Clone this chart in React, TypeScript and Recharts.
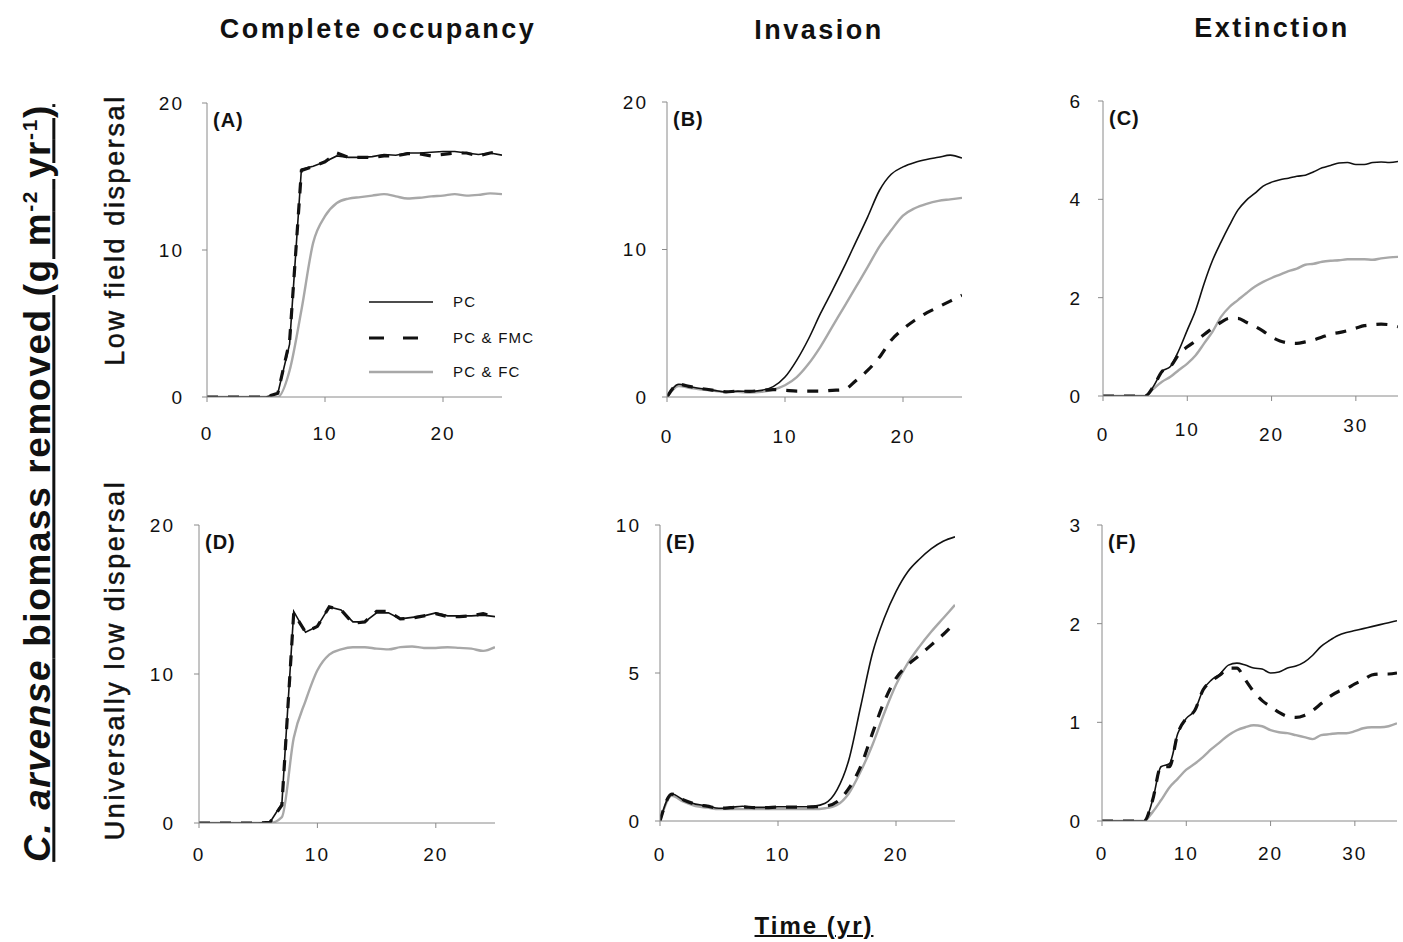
import React from 'react';
import { LineChart, Line, XAxis, YAxis } from 'recharts';

// ---------- data ----------
const years25 = [0,1,2,3,4,5,6,7,8,9,10,11,12,13,14,15,16,17,18,19,20,21,22,23,24,25];
const years35 = [0,1,2,3,4,5,6,7,8,9,10,11,12,13,14,15,16,17,18,19,20,21,22,23,24,25,26,27,28,29,30,31,32,33,34,35];

const seriesNames = ['PC', 'PC & FMC', 'PC & FC'];
const panelLetters = ['(A)', '(B)', '(C)', '(D)', '(E)', '(F)'];
const columnTitles = ['Complete occupancy', 'Invasion', 'Extinction'];
const rowTitles = ['Low field dispersal', 'Universally low dispersal'];

// (A) complete occupancy, low field dispersal
const pcA = [0,0,0,0,0,0,0.25,3.6,15.5,15.7,16.0,16.4,16.3,16.3,16.35,16.5,16.45,16.6,16.6,16.65,16.7,16.7,16.6,16.5,16.6,16.45];
const fmcA = [0,0,0,0,0,0,0.25,3.8,15.4,15.7,16.0,16.6,16.3,16.3,16.3,16.4,16.4,16.55,16.55,16.4,16.5,16.6,16.6,16.4,16.6,16.7];
const fcA = [0,0,0,0,0,0,0,1.8,5.9,10.5,12.3,13.2,13.5,13.6,13.7,13.8,13.65,13.5,13.55,13.65,13.7,13.8,13.7,13.75,13.85,13.8];

// (B) invasion, low field dispersal
const pcB = [0,0.86,0.7,0.56,0.45,0.35,0.4,0.38,0.45,0.7,1.35,2.5,3.95,5.65,7.2,8.8,10.5,12.2,14.0,15.1,15.6,15.9,16.1,16.25,16.4,16.2];
const fmcB = [0,0.86,0.7,0.56,0.45,0.35,0.4,0.38,0.45,0.5,0.45,0.4,0.4,0.4,0.45,0.5,1.1,1.8,2.7,3.85,4.6,5.2,5.7,6.1,6.5,6.9];
const fcB = [0,0.75,0.6,0.5,0.42,0.35,0.35,0.3,0.35,0.5,0.8,1.35,2.25,3.4,4.75,6.1,7.45,8.8,10.2,11.3,12.3,12.8,13.1,13.3,13.4,13.5];

// (C) extinction, low field dispersal
const pcC = [0,0,0,0,0,0,0.2,0.5,0.6,0.93,1.34,1.75,2.29,2.76,3.13,3.47,3.78,3.98,4.12,4.27,4.35,4.4,4.43,4.47,4.49,4.56,4.64,4.69,4.74,4.75,4.71,4.71,4.75,4.76,4.75,4.77];
const fmcC = [0,0,0,0,0,0,0.2,0.5,0.6,0.85,1.0,1.12,1.25,1.38,1.5,1.58,1.58,1.5,1.42,1.32,1.2,1.12,1.08,1.07,1.1,1.14,1.2,1.26,1.29,1.33,1.38,1.43,1.45,1.46,1.45,1.41];
const fcC = [0,0,0,0,0,0,0.15,0.29,0.39,0.53,0.66,0.83,1.07,1.31,1.61,1.81,1.95,2.09,2.22,2.32,2.4,2.47,2.54,2.59,2.67,2.69,2.73,2.75,2.76,2.78,2.78,2.78,2.77,2.8,2.82,2.83];

// (D) complete occupancy, universally low dispersal
const pcD = [0,0,0,0,0,0,0.05,1.3,14.2,12.8,13.2,14.5,14.3,13.5,13.5,14.1,14.1,13.7,13.8,13.9,14.1,13.9,13.9,13.9,13.95,13.85];
const fmcD = [0,0,0,0,0,0,0.05,1.2,14.1,12.8,13.2,14.5,14.3,13.4,13.5,14.2,14.2,13.7,13.75,13.9,14.05,13.85,13.85,13.9,14.05,13.85];
const fcD = [0,0,0,0,0,0,0,0.4,5.7,8.2,10.25,11.3,11.65,11.8,11.8,11.7,11.65,11.8,11.85,11.75,11.75,11.8,11.75,11.7,11.55,11.8];

// (E) invasion, universally low dispersal
const pcE = [0,0.91,0.71,0.57,0.51,0.43,0.46,0.5,0.46,0.46,0.48,0.48,0.48,0.5,0.6,1.05,2.06,3.86,5.66,6.85,7.75,8.42,8.85,9.2,9.45,9.6];
const fmcE = [0,0.91,0.71,0.57,0.5,0.43,0.45,0.48,0.45,0.45,0.47,0.47,0.47,0.48,0.5,0.65,1.1,1.84,2.96,4.03,4.82,5.27,5.6,5.95,6.3,6.7];
const fcE = [0,0.85,0.65,0.5,0.45,0.4,0.4,0.4,0.4,0.4,0.4,0.4,0.4,0.4,0.43,0.54,0.93,1.67,2.57,3.64,4.6,5.33,5.9,6.4,6.85,7.3];

// (F) extinction, universally low dispersal
const pcF = [0,0,0,0,0,0,0.21,0.55,0.58,0.89,1.04,1.12,1.33,1.43,1.49,1.58,1.6,1.58,1.55,1.54,1.5,1.51,1.55,1.57,1.61,1.68,1.77,1.83,1.88,1.91,1.93,1.95,1.97,1.99,2.01,2.03];
const fmcF = [0,0,0,0,0,0,0.21,0.55,0.55,0.89,1.04,1.12,1.33,1.42,1.48,1.55,1.55,1.43,1.31,1.22,1.16,1.1,1.06,1.05,1.07,1.12,1.19,1.26,1.31,1.34,1.39,1.43,1.48,1.49,1.49,1.5];
const fcF = [0,0,0,0,0,0,0.09,0.21,0.34,0.43,0.52,0.58,0.65,0.73,0.8,0.87,0.92,0.95,0.97,0.96,0.92,0.9,0.89,0.87,0.85,0.83,0.87,0.88,0.89,0.89,0.91,0.94,0.95,0.95,0.96,0.99];

const xTicks25 = [0, 10, 20];
const xTicks35 = [0, 10, 20, 30];
const yTicks20 = [0, 10, 20];
const yTicks6 = [0, 2, 4, 6];
const yTicks10 = [0, 5, 10];
const yTicks3 = [0, 1, 2, 3];

const build = (t: number[], pc: number[], fmc: number[], fc: number[]) =>
  t.map((v, i) => ({ t: v, pc: pc[i], fmc: fmc[i], fc: fc[i] }));

// ---------- styles ----------
const TICK_FONT = '"Liberation Sans", Arial, sans-serif';
const NARROW = '"Liberation Sans Narrow", "Arial Narrow", "Liberation Sans", Arial, sans-serif';
const AXIS_COLOR = '#8a8a8a';
const GRAY = '#a8a8a8';

type PanelProps = {
  x0: number; y0: number; pw: number; ph: number;
  data: any[]; xMax: number; xTicks: number[]; yMax: number; yTicks: number[];
  yGap: number; xGap: number; stagger?: number[]; sharp?: boolean; letter: string;
};

const PL = 70, PT = 15, PR = 15, PB = 60;

function Panel(p: PanelProps) {
  const XTick = (props: any) => {
    const { x, y, payload, index } = props;
    const off = p.stagger ? p.stagger[index] || 0 : 0;
    return (
      <text x={x} y={y + off} dy="0.71em" textAnchor="middle" fill="#111" fontSize={19}
        fontFamily={TICK_FONT} letterSpacing={2}>{payload.value}</text>
    );
  };
  const YTick = (props: any) => {
    const { x, y, payload } = props;
    return (
      <text x={x} y={y} dy="0.36em" textAnchor="end" fill="#111" fontSize={19}
        fontFamily={TICK_FONT} letterSpacing={2}>{payload.value}</text>
    );
  };
  const dark = p.sharp ? 'linear' : 'monotone';
  return (
    <div style={{ position: 'absolute', left: p.x0 - PL, top: p.y0 - PT }}>
      <LineChart width={p.pw + PL + PR} height={p.ph + PT + PB} data={p.data}
        margin={{ top: PT, right: PR, left: 0, bottom: 0 }}>
        <XAxis dataKey="t" type="number" domain={[0, p.xMax]} ticks={p.xTicks}
          stroke={AXIS_COLOR} tickSize={5} tickMargin={p.xGap} height={PB} tick={XTick}
          allowDataOverflow />
        <YAxis type="number" domain={[0, p.yMax]} ticks={p.yTicks} stroke={AXIS_COLOR}
          tickSize={5} tickMargin={p.yGap} width={PL} tick={YTick} allowDataOverflow />
        <Line dataKey="fc" type="monotone" stroke={GRAY} strokeWidth={2.4} dot={false}
          isAnimationActive={false} />
        <Line dataKey="pc" type={dark} stroke="#111" strokeWidth={1.6} dot={false}
          isAnimationActive={false} />
        <Line dataKey="fmc" type={dark} stroke="#111" strokeWidth={3.2} strokeDasharray="11 10"
          dot={false} isAnimationActive={false} />
      </LineChart>
      <div style={{ position: 'absolute', left: PL + 6, top: PT + 7, fontFamily: TICK_FONT,
        fontWeight: 'bold', fontSize: 20, lineHeight: 1, color: '#111', letterSpacing: 1 }}>{p.letter}</div>
    </div>
  );
}

function Legend() {
  const rows = [
    { y: 302, stroke: '#111', w: 1.6, dash: undefined as string | undefined },
    { y: 338, stroke: '#111', w: 3.2, dash: '15 19' },
    { y: 372, stroke: GRAY, w: 2.4, dash: undefined },
  ];
  return (
    <svg style={{ position: 'absolute', left: 360, top: 285 }} width={200} height={110}>
      {rows.map((r, i) => (
        <g key={i}>
          <line x1={9} x2={73} y1={r.y - 285} y2={r.y - 285} stroke={r.stroke} strokeWidth={r.w}
            strokeDasharray={r.dash} />
          <text x={93} y={r.y - 285} dy="0.36em" fontSize={15} fontFamily={TICK_FONT}
            letterSpacing={1.2} fill="#111">{seriesNames[i]}</text>
        </g>
      ))}
    </svg>
  );
}

const centerText = (left: number, top: number, rotate: boolean, style: any, content: any, key: string) => (
  <div key={key} style={{
    position: 'absolute', left, top, whiteSpace: 'nowrap', lineHeight: 1,
    transform: rotate ? 'translate(-50%, -50%) rotate(-90deg)' : 'translate(-50%, -50%)',
    ...style,
  }}>{content}</div>
);

export default function App() {
  const titleStyle = { fontFamily: NARROW, fontWeight: 'bold', fontSize: 27, letterSpacing: 2.5, color: '#111' };
  const rowStyle = { fontFamily: NARROW, fontSize: 27, letterSpacing: 2.6, color: '#111', WebkitTextStroke: '0.5px #111' };
  return (
    <div style={{ position: 'absolute', left: 0, top: 0, width: 1403, height: 942, background: '#fff', overflow: 'hidden' }}>
      {centerText(378, 29, false, titleStyle, columnTitles[0], 't0')}
      {centerText(819, 30, false, titleStyle, columnTitles[1], 't1')}
      {centerText(1272, 28, false, titleStyle, columnTitles[2], 't2')}
      {centerText(115, 230, true, rowStyle, rowTitles[0], 'r0')}
      {centerText(115, 660, true, rowStyle, rowTitles[1], 'r1')}
      {centerText(38, 483, true, { fontFamily: NARROW, fontWeight: 'bold', fontSize: 37, letterSpacing: 1.6, color: '#111', textDecoration: 'underline', textDecorationThickness: 3 },
        <span><i>C. arvense</i> biomass removed (g m<sup style={{ fontSize: 21 }}>-2</sup> yr<sup style={{ fontSize: 21 }}>-1</sup>)</span>, 'ylab')}
      {centerText(814, 926, false, { fontFamily: NARROW, fontWeight: 'bold', fontSize: 24, letterSpacing: 2, color: '#111', textDecoration: 'underline', textDecorationThickness: 2 }, 'Time (yr)', 'xlab')}

      <Panel x0={207} y0={103} pw={295} ph={294} data={build(years25, pcA, fmcA, fcA)} xMax={25}
        xTicks={xTicks25} yMax={20} yTicks={yTicks20} yGap={18} xGap={25} sharp letter={panelLetters[0]} />
      <Panel x0={667} y0={102} pw={295} ph={295} data={build(years25, pcB, fmcB, fcB)} xMax={25}
        xTicks={xTicks25} yMax={20} yTicks={yTicks20} yGap={14} xGap={28} letter={panelLetters[1]} />
      <Panel x0={1103} y0={101} pw={295} ph={295} data={build(years35, pcC, fmcC, fcC)} xMax={35}
        xTicks={xTicks35} yMax={6} yTicks={yTicks6} yGap={16} xGap={27} stagger={[0, -5, 0, -9]} letter={panelLetters[2]} />
      <Panel x0={199} y0={525} pw={296} ph={298} data={build(years25, pcD, fmcD, fcD)} xMax={25}
        xTicks={xTicks25} yMax={20} yTicks={yTicks20} yGap={19} xGap={20} sharp letter={panelLetters[3]} />
      <Panel x0={660} y0={525} pw={295} ph={296} data={build(years25, pcE, fmcE, fcE)} xMax={25}
        xTicks={xTicks25} yMax={10} yTicks={yTicks10} yGap={14} xGap={22} letter={panelLetters[4]} />
      <Panel x0={1102} y0={525} pw={295} ph={296} data={build(years35, pcF, fmcF, fcF)} xMax={35}
        xTicks={xTicks35} yMax={3} yTicks={yTicks3} yGap={15} xGap={21} letter={panelLetters[5]} />
      <Legend />
    </div>
  );
}
